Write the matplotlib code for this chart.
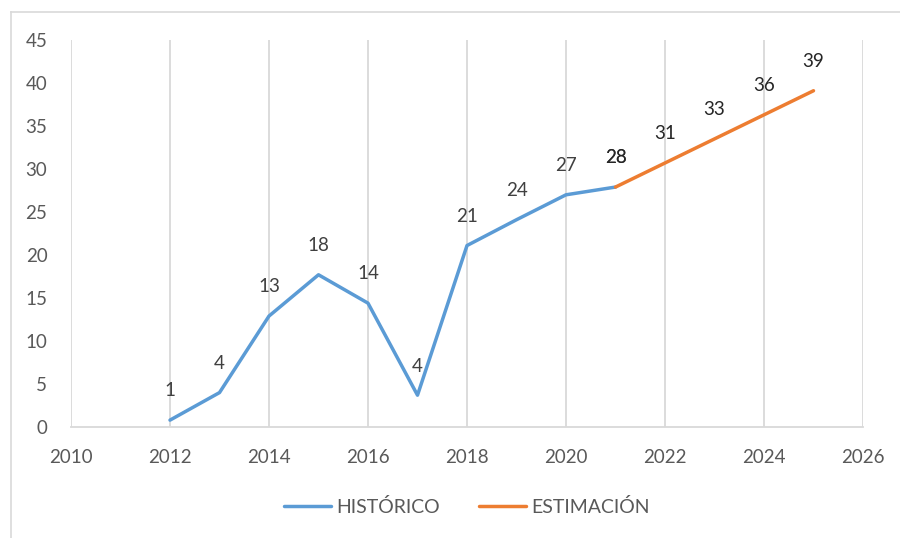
import matplotlib
matplotlib.use("Agg")
import matplotlib.pyplot as plt
from matplotlib.lines import Line2D

# Historical and estimated series
hist_years = [2012, 2013, 2014, 2015, 2016, 2017, 2018, 2019, 2020, 2021]
hist_values = [0.8, 4.0, 12.9, 17.7, 14.4, 3.7, 21.1, 24.1, 27.0, 27.9]
hist_labels = ["1", "4", "13", "18", "14", "4", "21", "24", "27", "28"]

est_years = [2021, 2022, 2023, 2024, 2025]
est_values = [27.9, 30.7, 33.5, 36.3, 39.1]
est_labels = ["28", "31", "33", "36", "39"]

x_ticks = list(range(2010, 2027, 2))
y_ticks = list(range(0, 46, 5))

BLUE = "#5b9bd5"
ORANGE = "#ed7d31"
GRID = "#d9d9d9"
TEXT = "#595959"

plt.rcParams["font.family"] = ["Lato", "DejaVu Sans"]

fig = plt.figure(figsize=(9, 5.38), dpi=100)
ax = fig.add_axes([71 / 900, 1 - 427 / 538, 792 / 900, 387 / 538])

ax.plot(hist_years, hist_values, color=BLUE, lw=2.5, label="HISTÓRICO",
        solid_joinstyle="round", solid_capstyle="round")
ax.plot(est_years, est_values, color=ORANGE, lw=2.5, label="ESTIMACIÓN",
        solid_capstyle="round")

for x, y, s in zip(hist_years, hist_values, hist_labels):
    ax.annotate(s, (x, y), xytext=(0, 21), textcoords="offset points",
                ha="center", va="center", fontsize=13.5, color="#404040")
for x, y, s in zip(est_years, est_values, est_labels):
    ax.annotate(s, (x, y), xytext=(0, 21), textcoords="offset points",
                ha="center", va="center", fontsize=13.5, color="#262626")

ax.set_xlim(2010, 2026)
ax.set_ylim(0, 45)
ax.set_xticks(x_ticks)
ax.set_yticks(y_ticks)
ax.tick_params(axis="both", length=0, labelsize=13.5, colors=TEXT)
ax.tick_params(axis="x", pad=16)
ax.tick_params(axis="y", pad=17)

ax.grid(axis="x", color=GRID, lw=1.3)
ax.grid(axis="y", visible=False)
for side in ["top", "right", "left"]:
    ax.spines[side].set_visible(False)
ax.spines["bottom"].set_color(GRID)
ax.spines["bottom"].set_linewidth(1.3)

leg = fig.legend(loc="center", bbox_to_anchor=(467 / 900, 1 - 507 / 538),
                 ncol=2, frameon=False, fontsize=14, handlelength=2.4,
                 handletextpad=0.3, columnspacing=2.0)
for t in leg.get_texts():
    t.set_color(TEXT)

# outer chart border (partially visible)
fig.add_artist(Line2D([11 / 900, 1], [1 - 12 / 538, 1 - 12 / 538],
                      color=GRID, lw=1.2, transform=fig.transFigure))
fig.add_artist(Line2D([11 / 900, 11 / 900], [0, 1 - 12 / 538],
                      color=GRID, lw=1.2, transform=fig.transFigure))

fig.savefig("out.png", dpi=100, facecolor="white")
